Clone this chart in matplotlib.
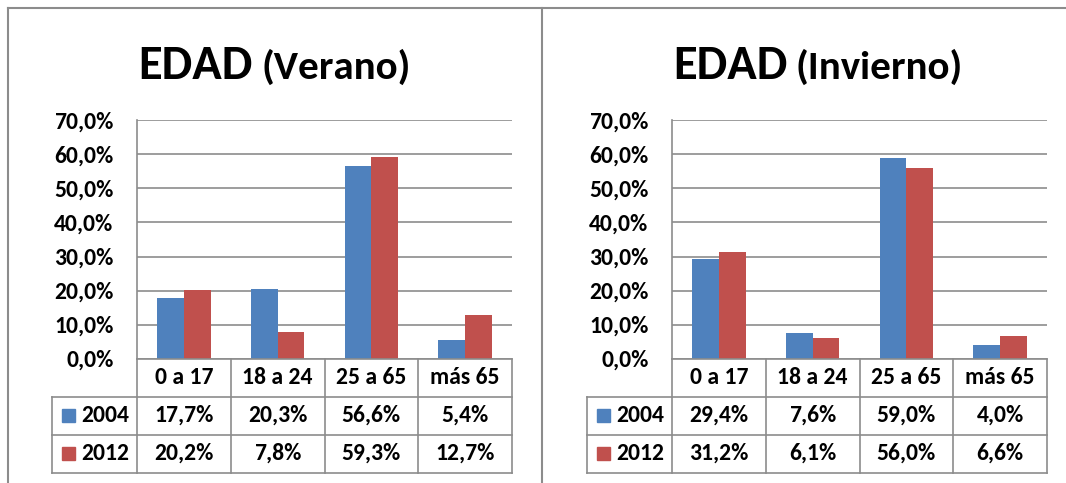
import matplotlib
matplotlib.use("Agg")
import matplotlib.pyplot as plt
from matplotlib.lines import Line2D
from matplotlib.patches import Rectangle
from matplotlib.ticker import FuncFormatter

# Datos
categorias = ["0 a 17", "18 a 24", "25 a 65", "más 65"]
anios = ["2004", "2012"]
verano_2004 = [17.7, 20.3, 56.6, 5.4]
verano_2012 = [20.2, 7.8, 59.3, 12.7]
invierno_2004 = [29.4, 7.6, 59.0, 4.0]
invierno_2012 = [31.2, 6.1, 56.0, 6.6]
titulos = ["(Verano)", "(Invierno)"]

azul = "#4F81BD"
rojo = "#C0504D"
gris = "#8C8C8C"

W, H = 1066, 483
FAM = "Carlito"
FS = 17
fig = plt.figure(figsize=(W / 100, H / 100), dpi=100)


def fx(x):
    return x / W


def fy(y):
    return 1 - y / H


def linea(x0, y0, x1, y1, lw=1.2):
    fig.add_artist(Line2D([fx(x0), fx(x1)], [fy(y0), fy(y1)], color=gris, lw=lw,
                          transform=fig.transFigure))


def texto(x, y, s, size=FS, **kw):
    fig.text(fx(x), fy(y), s, family=FAM, fontweight="bold", fontsize=size, **kw)


def pct(v, pos=None):
    return ("%.1f%%" % v).replace(".", ",")


# Marcos de los graficos
linea(8, 8, W, 8, 1.5)
linea(8, 8, 8, H, 1.5)
linea(541.5, 8, 541.5, H, 1.5)

paneles = [(0, titulos[0], verano_2004, verano_2012),
           (535, titulos[1], invierno_2004, invierno_2012)]

for ox, titulo, s1, s2 in paneles:
    x0, x1 = 137 + ox, 512 + ox
    ytop, ybot = 120.5, 358.5
    ax = fig.add_axes([fx(x0), fy(ybot), fx(x1) - fx(x0), fy(ytop) - fy(ybot)])
    n = len(categorias)
    pos = list(range(n))
    ancho = 0.285
    ax.bar([p - ancho / 2 for p in pos], s1, ancho, color=azul, zorder=3)
    ax.bar([p + ancho / 2 for p in pos], s2, ancho, color=rojo, zorder=3)
    ax.set_xlim(-0.5, n - 0.5)
    ax.set_ylim(0, 70)
    ax.set_yticks(range(0, 71, 10))
    ax.yaxis.set_major_formatter(FuncFormatter(pct))
    ax.set_xticks([])
    ax.grid(axis="y", color=gris, lw=1.2, zorder=0)
    for s in ["top", "right", "bottom"]:
        ax.spines[s].set_visible(False)
    ax.spines["left"].set_color(gris)
    ax.spines["left"].set_linewidth(1.2)
    ax.tick_params(axis="y", length=0, pad=17, labelsize=FS)
    for t in ax.get_yticklabels():
        t.set_family(FAM)
        t.set_fontweight("bold")

    # Titulo
    texto(253 + ox, 79, "EDAD", 35, ha="right", va="baseline")
    texto(261 + ox, 79, titulo, 29.5, ha="left", va="baseline")

    # Tabla de datos
    filas = [358.5, 396.5, 434.5, 472.5]
    xl = 52 + ox
    cw = (x1 - x0) / n
    cols = [x0 + i * cw for i in range(n + 1)]
    linea(x0, filas[0], x1, filas[0])
    for yy in filas[1:]:
        linea(xl, yy, x1, yy)
    linea(xl, filas[1], xl, filas[3])
    for cx in cols:
        linea(cx, filas[0], cx, filas[3])
    for i, c in enumerate(categorias):
        texto(cols[i] + cw / 2, (filas[0] + filas[1]) / 2, c, ha="center", va="center")
    for r, (anio, serie, col) in enumerate(zip(anios, [s1, s2], [azul, rojo])):
        yc = (filas[r + 1] + filas[r + 2]) / 2
        fig.add_artist(Rectangle((fx(62 + ox), fy(yc + 6.5)), fx(13), 13 / H,
                                 color=col, transform=fig.transFigure))
        texto(81 + ox, yc, anio, ha="left", va="center")
        for i, v in enumerate(serie):
            texto(cols[i] + cw / 2, yc, pct(v), ha="center", va="center")

fig.savefig("out.png", dpi=100)
